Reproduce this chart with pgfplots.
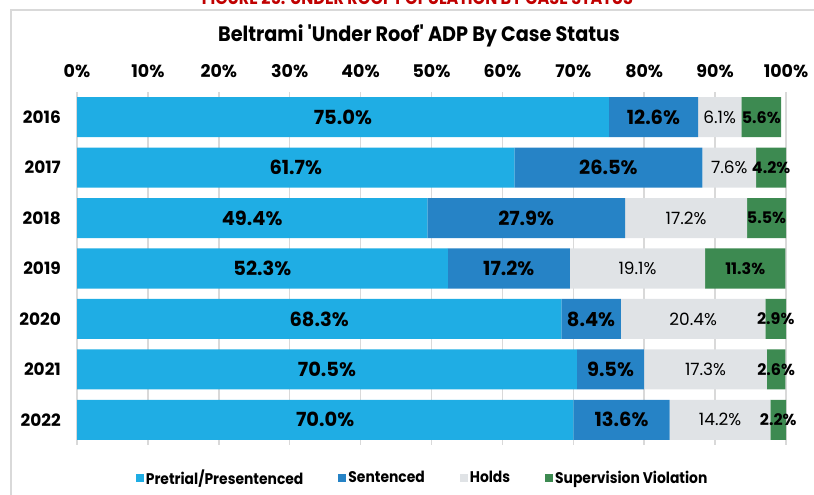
\documentclass[border=0pt]{standalone}
\usepackage{fontspec}
\setmainfont{Poppins}
\newfontfamily\narrowfont{Poppins}[FakeStretch=0.9]
\newfontfamily\titlefont{Poppins}[FakeStretch=0.92]
\usepackage{pgfplots}
\pgfplotsset{compat=1.18}
\usepackage{pgfplotstable}
\definecolor{cPre}{HTML}{1FADE4}
\definecolor{cSen}{HTML}{2683C6}
\definecolor{cHol}{HTML}{E0E3E6}
\definecolor{cSup}{HTML}{3D8A51}
\definecolor{cFrame}{HTML}{D9D9D9}
\definecolor{cFig}{HTML}{C00000}

\pgfplotstableread{
y year pre sen hol sup
0 2016 75.0 12.6 6.1 5.6
1 2017 61.7 26.5 7.6 4.2
2 2018 49.4 27.9 17.2 5.5
3 2019 52.3 17.2 19.1 11.3
4 2020 68.3 8.4 20.4 2.9
5 2021 70.5 9.5 17.3 2.6
6 2022 70.0 13.6 14.2 2.2
}\data

\begin{document}
\begin{tikzpicture}[x=1bp,y=1bp]
\useasboundingbox (0,0) rectangle (814,495);
\draw[cFrame, line width=1.5bp] (11,-5) -- (11,485) -- (820,485);
\node[anchor=base, text=cFig, inner sep=0pt] at (417.5,490.5) {\resizebox{431bp}{!}{\narrowfont\bfseries FIGURE 25: UNDER ROOF POPULATION BY CASE STATUS}};
\node[anchor=base, inner sep=0pt, font=\titlefont\bfseries\fontsize{21}{21}\selectfont] at (419,453) {Beltrami 'Under Roof' ADP By Case Status};
\begin{axis}[
  at={(77bp,50bp)}, anchor=south west,
  scale only axis, width=709bp, height=353bp,
  xbar stacked, bar width=40bp,
  xmin=0, xmax=100, ymin=-0.5, ymax=6.5, y dir=reverse,
  axis line style={draw=none},
  major tick length=0pt,
  xtick={0,10,...,100},
  xticklabels={0\%,10\%,20\%,30\%,40\%,50\%,60\%,70\%,80\%,90\%,100\%},
  xticklabel pos=upper,
  xticklabel style={anchor=base, yshift=14bp, font=\bfseries\fontsize{17.5}{17.5}\selectfont},
  ytick={0,...,6},
  yticklabels={2016,2017,2018,2019,2020,2021,2022},
  yticklabel style={anchor=east, inner sep=0pt, xshift=-16bp, font=\bfseries\fontsize{17}{17}\selectfont},
  xmajorgrids, ymajorgrids=false,
  grid style={cFrame, line width=1.5bp},
  /pgf/number format/assume math mode=true,
  point meta=explicit,
  nodes near coords={\pgfmathprintnumber[fixed,fixed zerofill,precision=1]{\pgfplotspointmeta}\%},
  every node near coord/.append style={text=black},
  legend columns=4,
  legend style={draw=none, fill=none, at={(0.4875,-0.0935)}, anchor=center,
    font=\narrowfont\bfseries\fontsize{15.5}{15.5}\selectfont,
    /tikz/every even column/.append style={column sep=33bp}},
  legend image code/.code={\fill[#1] (0bp,-4bp) rectangle (8bp,4bp);},
]
\addplot[fill=cPre, draw=none, nodes near coords style={font=\bfseries\fontsize{19.5}{19.5}\selectfont}] table[x=pre, y=y, meta=pre] {\data};
\addplot[fill=cSen, draw=none, nodes near coords style={font=\bfseries\fontsize{19.5}{19.5}\selectfont}] table[x=sen, y=y, meta=sen] {\data};
\addplot[fill=cHol, draw=none, nodes near coords style={font=\fontsize{17}{17}\selectfont}] table[x=hol, y=y, meta=hol] {\data};
\addplot[fill=cSup, draw=none, nodes near coords style={font=\bfseries\fontsize{16}{16}\selectfont}] table[x=sup, y=y, meta=sup] {\data};
\legend{Pretrial/Presentenced, Sentenced, Holds, Supervision Violation}
\end{axis}
\end{tikzpicture}
\end{document}
